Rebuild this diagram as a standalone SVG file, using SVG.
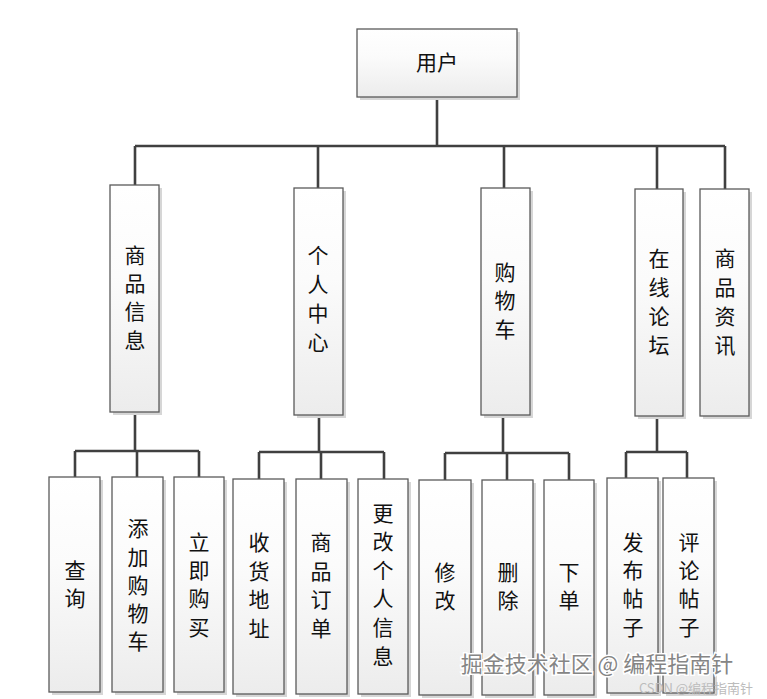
<svg xmlns="http://www.w3.org/2000/svg" width="767" height="699" viewBox="0 0 767 699">
<defs>
<linearGradient id="g" x1="0" y1="0" x2="0" y2="1">
<stop offset="0" stop-color="#ffffff"/>
<stop offset="0.4" stop-color="#fbfbfb"/>
<stop offset="1" stop-color="#ececec"/>
</linearGradient>
</defs>
<style>
.box{fill:url(#g);stroke:#5a5a5a;stroke-width:1.3}
.sh{fill:#d6d6d6}
.t{font-family:"Noto Sans CJK SC","Noto Sans",sans-serif;font-size:21px;fill:#111;text-anchor:middle}
.c{fill:none;stroke:#404040;stroke-width:2.6}
.wm{font-family:"Noto Sans CJK SC",sans-serif;font-size:22px;fill:#858585;stroke:#fff;stroke-width:3;paint-order:stroke;text-anchor:middle}
.wm2{font-family:"Noto Sans CJK SC",sans-serif;font-size:13px;fill:#bcbcbc;text-anchor:middle}
</style>
<rect width="767" height="699" fill="#fff"/>
<g id="connectors">
<path class="c" d="M437 97V146M135 146H725M135 146V185M318 146V190M504 146V190M657 146V190M725 146V189"/>
<path class="c" d="M135 412V451M75 451H199M75 451V477M137 451V480M199 451V477"/>
<path class="c" d="M319 415V452M259 452H384M259 452V479M321 452V481M384 452V479"/>
<path class="c" d="M503 415V453M445 453H569M445 453V480M507 453V482M569 453V480"/>
<path class="c" d="M657 416V452M626 452H687M626 452V478M687 452V478"/>
</g>
<g id="root"><rect class="sh" x="360" y="32" width="160" height="68"/><rect class="box" x="357" y="29" width="160" height="68"/><text class="t" x="437" y="70">用户</text></g>
<g id="n1"><rect class="sh" x="113" y="188" width="49" height="227"/><rect class="box" x="110" y="185" width="49" height="227"/><text class="t" x="135"><tspan x="135" y="263">商</tspan><tspan x="135" y="291">品</tspan><tspan x="135" y="319">信</tspan><tspan x="135" y="348">息</tspan></text></g>
<g id="n2"><rect class="sh" x="297" y="191" width="49" height="227"/><rect class="box" x="294" y="188" width="49" height="227"/><text class="t" x="318"><tspan x="318" y="263">个</tspan><tspan x="318" y="292">人</tspan><tspan x="318" y="321">中</tspan><tspan x="318" y="350">心</tspan></text></g>
<g id="n3"><rect class="sh" x="484" y="191" width="49" height="227"/><rect class="box" x="481" y="188" width="49" height="227"/><text class="t"><tspan x="505" y="280">购</tspan><tspan x="505" y="308">物</tspan><tspan x="505" y="337">车</tspan></text></g>
<g id="n4"><rect class="sh" x="638" y="192" width="48" height="227"/><rect class="box" x="635" y="189" width="48" height="227"/><text class="t"><tspan x="659" y="266">在</tspan><tspan x="659" y="295">线</tspan><tspan x="659" y="324">论</tspan><tspan x="659" y="353">坛</tspan></text></g>
<g id="n5"><rect class="sh" x="703" y="192" width="49" height="227"/><rect class="box" x="700" y="189" width="49" height="227"/><text class="t"><tspan x="725" y="266">商</tspan><tspan x="725" y="295">品</tspan><tspan x="725" y="324">资</tspan><tspan x="725" y="353">讯</tspan></text></g>
<g id="n11"><rect class="sh" x="52" y="480" width="51" height="215"/><rect class="box" x="49" y="477" width="51" height="215"/><text class="t"><tspan x="75" y="578">查</tspan><tspan x="75" y="606">询</tspan></text></g>
<g id="n12"><rect class="sh" x="115" y="480" width="51" height="215"/><rect class="box" x="112" y="477" width="51" height="215"/><text class="t"><tspan x="138" y="536">添</tspan><tspan x="138" y="565">加</tspan><tspan x="138" y="593">购</tspan><tspan x="138" y="621">物</tspan><tspan x="138" y="649">车</tspan></text></g>
<g id="n13"><rect class="sh" x="177" y="480" width="50" height="215"/><rect class="box" x="174" y="477" width="50" height="215"/><text class="t"><tspan x="199" y="550">立</tspan><tspan x="199" y="578">即</tspan><tspan x="199" y="606">购</tspan><tspan x="199" y="635">买</tspan></text></g>
<g id="n21"><rect class="sh" x="236" y="482" width="51" height="215"/><rect class="box" x="233" y="479" width="51" height="215"/><text class="t"><tspan x="259" y="550">收</tspan><tspan x="259" y="579">货</tspan><tspan x="259" y="607">地</tspan><tspan x="259" y="636">址</tspan></text></g>
<g id="n22"><rect class="sh" x="299" y="482" width="51" height="215"/><rect class="box" x="296" y="479" width="51" height="215"/><text class="t"><tspan x="321" y="550">商</tspan><tspan x="321" y="579">品</tspan><tspan x="321" y="607">订</tspan><tspan x="321" y="636">单</tspan></text></g>
<g id="n23"><rect class="sh" x="361" y="482" width="50" height="215"/><rect class="box" x="358" y="479" width="50" height="215"/><text class="t"><tspan x="383" y="521">更</tspan><tspan x="383" y="549">改</tspan><tspan x="383" y="578">个</tspan><tspan x="383" y="606">人</tspan><tspan x="383" y="635">信</tspan><tspan x="383" y="664">息</tspan></text></g>
<g id="n31"><rect class="sh" x="422" y="483" width="52" height="215"/><rect class="box" x="419" y="480" width="52" height="215"/><text class="t"><tspan x="445" y="580">修</tspan><tspan x="445" y="608">改</tspan></text></g>
<g id="n32"><rect class="sh" x="485" y="483" width="51" height="215"/><rect class="box" x="482" y="480" width="51" height="215"/><text class="t"><tspan x="508" y="580">删</tspan><tspan x="508" y="608">除</tspan></text></g>
<g id="n33"><rect class="sh" x="547" y="483" width="50" height="215"/><rect class="box" x="544" y="480" width="50" height="215"/><text class="t"><tspan x="569" y="580">下</tspan><tspan x="569" y="608">单</tspan></text></g>
<g id="n41"><rect class="sh" x="610" y="481" width="51" height="215"/><rect class="box" x="607" y="478" width="51" height="215"/><text class="t"><tspan x="633" y="550">发</tspan><tspan x="633" y="578">布</tspan><tspan x="633" y="606">帖</tspan><tspan x="633" y="635">子</tspan></text></g>
<g id="n42"><rect class="sh" x="666" y="481" width="51" height="215"/><rect class="box" x="663" y="478" width="51" height="215"/><text class="t"><tspan x="689" y="550">评</tspan><tspan x="689" y="578">论</tspan><tspan x="689" y="606">帖</tspan><tspan x="689" y="635">子</tspan></text></g>
<text class="wm" x="597" y="672">掘金技术社区 @ 编程指南针</text>
<text class="wm2" x="696" y="693">CSDN @编程指南针</text>
</svg>
